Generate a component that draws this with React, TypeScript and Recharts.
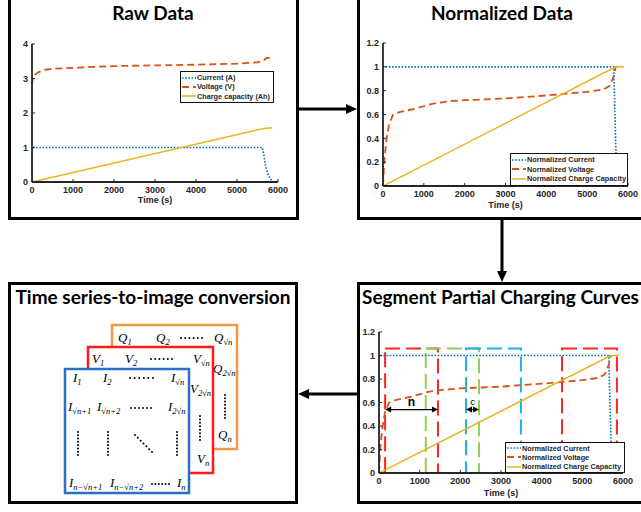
import React from "react";
import {
  LineChart,
  Line,
  XAxis,
  YAxis,
  Legend,
  ReferenceArea,
  ReferenceLine,
} from "recharts";

type Pt = { t: number; v: number };

// ---- data ----
const TIME_TICKS = [0, 1000, 2000, 3000, 4000, 5000, 6000];
const RAW_Y_TICKS = [0, 1, 2, 3, 4];
const NORM_Y_TICKS = [0, 0.2, 0.4, 0.6, 0.8, 1, 1.2];

const RAW_LABELS = ["Current (A)", "Voltage (V)", "Charge capacity (Ah)"];
const NORM_LABELS = ["Normalized Current", "Normalized Voltage", "Normalized Charge Capacity"];

const RAW_CURRENT: Pt[] = [
  { t: 0, v: 0 }, { t: 5, v: 1 }, { t: 5620, v: 1 }, { t: 5660, v: 0.75 },
  { t: 5700, v: 0.45 }, { t: 5750, v: 0.25 }, { t: 5800, v: 0.12 }, { t: 5850, v: 0.04 },
];
const RAW_VOLTAGE: Pt[] = [
  { t: 0, v: 2.8 }, { t: 20, v: 3.0 }, { t: 60, v: 3.1 }, { t: 150, v: 3.18 },
  { t: 300, v: 3.25 }, { t: 500, v: 3.28 }, { t: 1000, v: 3.31 }, { t: 2000, v: 3.36 },
  { t: 3000, v: 3.38 }, { t: 4000, v: 3.4 }, { t: 5000, v: 3.43 }, { t: 5500, v: 3.47 },
  { t: 5650, v: 3.52 }, { t: 5720, v: 3.6 }, { t: 5800, v: 3.6 },
];
const RAW_CAPACITY: Pt[] = [{ t: 0, v: 0 }, { t: 5650, v: 1.55 }, { t: 5850, v: 1.57 }];

const NORM_CURRENT: Pt[] = [
  { t: 0, v: 0 }, { t: 5, v: 1 }, { t: 5650, v: 1 }, { t: 5680, v: 0.6 },
  { t: 5720, v: 0.1 }, { t: 5750, v: 0 },
];
const NORM_VOLTAGE: Pt[] = [
  { t: 0, v: 0 }, { t: 30, v: 0.2 }, { t: 80, v: 0.38 }, { t: 150, v: 0.52 },
  { t: 250, v: 0.6 }, { t: 400, v: 0.62 }, { t: 800, v: 0.65 }, { t: 1200, v: 0.69 },
  { t: 1600, v: 0.71 }, { t: 2000, v: 0.72 }, { t: 3000, v: 0.735 }, { t: 4000, v: 0.76 },
  { t: 5000, v: 0.79 }, { t: 5400, v: 0.81 }, { t: 5550, v: 0.84 }, { t: 5650, v: 0.92 },
  { t: 5700, v: 1 },
];
const NORM_CAPACITY: Pt[] = [{ t: 0, v: 0 }, { t: 5700, v: 1 }, { t: 5900, v: 1 }];

const SEGMENTS = [
  { x1: 150, x2: 1450, color: "#ff2424" },
  { x1: 1150, x2: 2460, color: "#92d050" },
  { x1: 2140, x2: 3490, color: "#1cb0ee" },
  { x1: 4500, x2: 5850, color: "#ff2424" },
];
const SEG_TOP = 1.06;
const SPANS = [
  { x1: 150, x2: 1450, y: 0.54, label: "n" },
  { x1: 2140, x2: 2460, y: 0.54, label: "c" },
];

// ---- styles ----
const BLUE = "#0072BD";
const ORANGE = "#D95319";
const YELLOW = "#EDB120";
const AXIS_COLOR = "#262626";
const FONT = "'Liberation Sans', Arial, sans-serif";
const TITLE_FONT = "Lato, 'Open Sans', sans-serif";
const MATH_FONT = "'Liberation Serif', 'DejaVu Serif', serif";

const SERIES_STYLE = [
  { color: BLUE, dash: "1.6 1.6", width: 1.6 },
  { color: ORANGE, dash: "7 4", width: 1.8 },
  { color: YELLOW, dash: undefined as string | undefined, width: 1.5 },
];

const tickFont = { fill: AXIS_COLOR, fontSize: 9, fontWeight: 700, fontFamily: FONT };
const blankTick = () => <g />;
const fmt = (v: number) => `${+v.toFixed(1)}`;

function frame(yTicks: number[], yMax: number, xHeight: number, yWidth: number) {
  const axisLine = { stroke: AXIS_COLOR, strokeWidth: 1.8 };
  const tickLine = { stroke: AXIS_COLOR, strokeWidth: 1 };
  return [
    <XAxis
      key="xb"
      dataKey="t"
      type="number"
      domain={[0, 6000]}
      ticks={TIME_TICKS}
      allowDataOverflow
      interval={0}
      height={xHeight}
      axisLine={axisLine}
      tickLine={tickLine}
      tickSize={-3}
      tickMargin={8}
      tick={tickFont}
      label={{ value: "Time (s)", position: "bottom", offset: 0, fill: AXIS_COLOR, fontSize: 9, fontWeight: 700, fontFamily: FONT }}
    />,
    <XAxis
      key="xt"
      xAxisId="top"
      orientation="top"
      type="number"
      domain={[0, 6000]}
      ticks={TIME_TICKS}
      allowDataOverflow
      interval={0}
      height={0}
      axisLine={axisLine}
      tickLine={tickLine}
      tickSize={-3}
      tick={blankTick}
    />,
    <YAxis
      key="yl"
      type="number"
      domain={[0, yMax]}
      ticks={yTicks}
      allowDataOverflow
      interval={0}
      width={yWidth}
      axisLine={axisLine}
      tickLine={tickLine}
      tickSize={-3}
      tickMargin={7}
      tick={tickFont}
      tickFormatter={fmt}
    />,
    <YAxis
      key="yr"
      yAxisId="right"
      orientation="right"
      type="number"
      domain={[0, yMax]}
      ticks={yTicks}
      allowDataOverflow
      interval={0}
      width={0}
      axisLine={axisLine}
      tickLine={tickLine}
      tickSize={-3}
      tick={blankTick}
    />,
  ];
}

function seriesLines(series: Pt[][], labels: string[]) {
  return series.map((data, i) => (
    <Line
      key={labels[i]}
      name={labels[i]}
      data={data}
      dataKey="v"
      type="linear"
      stroke={SERIES_STYLE[i].color}
      strokeWidth={SERIES_STYLE[i].width}
      strokeDasharray={SERIES_STYLE[i].dash}
      dot={false}
      activeDot={false}
      isAnimationActive={false}
    />
  ));
}

function LegendBox({ labels, fontSize, width, height }: { labels: string[]; fontSize: number; width: number; height: number }) {
  return (
    <div
      style={{
        width,
        height,
        boxSizing: "border-box",
        border: "1.5px solid #111",
        background: "#fff",
        display: "flex",
        flexDirection: "column",
        justifyContent: "space-evenly",
        padding: "0 1px",
      }}
    >
      {labels.map((l, i) => (
        <div key={l} style={{ display: "flex", alignItems: "center" }}>
          <svg width={14} height={6} style={{ flex: "none" }}>
            <line
              x1={0}
              y1={3}
              x2={14}
              y2={3}
              stroke={SERIES_STYLE[i].color}
              strokeWidth={SERIES_STYLE[i].width}
              strokeDasharray={SERIES_STYLE[i].dash}
            />
          </svg>
          <span style={{ marginLeft: 1, fontSize, fontWeight: 700, fontFamily: FONT, color: AXIS_COLOR, whiteSpace: "nowrap", lineHeight: 1 }}>
            {l}
          </span>
        </div>
      ))}
    </div>
  );
}

function legendFor(labels: string[], left: number, top: number, width: number, height: number, fontSize: number) {
  return (
    <Legend
      layout="vertical"
      align="center"
      verticalAlign="middle"
      wrapperStyle={{ left, top, width, height }}
      content={() => <LegendBox labels={labels} fontSize={fontSize} width={width} height={height} />}
    />
  );
}

function SpanArrow(props: any) {
  const { x1, y1, x2, text } = props;
  const big = text === "n";
  return (
    <g>
      <line x1={x1 + 3} y1={y1} x2={x2 - 3} y2={y1} stroke="#000" strokeWidth={1.3} />
      <polygon points={`${x1},${y1} ${x1 + 6},${y1 - 3} ${x1 + 6},${y1 + 3}`} fill="#000" />
      <polygon points={`${x2},${y1} ${x2 - 6},${y1 - 3} ${x2 - 6},${y1 + 3}`} fill="#000" />
      <text
        x={(x1 + x2) / 2}
        y={y1 - (big ? 4 : 5)}
        textAnchor="middle"
        fontSize={big ? 12 : 9.5}
        fontWeight={big ? 700 : 400}
        fontFamily={FONT}
        fill="#000"
      >
        {text}
      </text>
    </g>
  );
}

function Title({ text, cx, top, left }: { text: string; cx?: number; top: number; left?: number }) {
  const style: React.CSSProperties = {
    position: "absolute",
    top,
    fontFamily: TITLE_FONT,
    fontWeight: 700,
    fontSize: 19,
    lineHeight: "20px",
    whiteSpace: "nowrap",
    color: "#000",
  };
  if (cx !== undefined) {
    style.left = cx - 200;
    style.width = 400;
    style.textAlign = "center";
  } else {
    style.left = left;
  }
  return <div style={style}>{text}</div>;
}

function Panel({ left, top, width, height }: { left: number; top: number; width: number; height: number }) {
  return (
    <div
      style={{ position: "absolute", left, top, width, height, boxSizing: "border-box", border: "3px solid #000", background: "#fff" }}
    />
  );
}

function M({ x, y, base, sub }: { x: number; y: number; base: string; sub: string }) {
  return (
    <text x={x} y={y} fontFamily={MATH_FONT} fontStyle="italic" fontSize={13} fill="#000">
      {base}
      <tspan fontSize={8.5} dy={3}>
        {sub}
      </tspan>
    </text>
  );
}

function HDots({ x1, x2, y }: { x1: number; x2: number; y: number }) {
  const n = 6;
  return (
    <g>
      {Array.from({ length: n }, (_, i) => (
        <circle key={i} cx={x1 + ((x2 - x1) * i) / (n - 1)} cy={y} r={1} fill="#000" />
      ))}
    </g>
  );
}

function VDots({ x, y1, y2 }: { x: number; y1: number; y2: number }) {
  const n = 8;
  return (
    <g>
      {Array.from({ length: n }, (_, i) => (
        <circle key={i} cx={x} cy={y1 + ((y2 - y1) * i) / (n - 1)} r={1} fill="#000" />
      ))}
    </g>
  );
}

function DDots({ x1, y1, x2, y2 }: { x1: number; y1: number; x2: number; y2: number }) {
  const n = 7;
  return (
    <g>
      {Array.from({ length: n }, (_, i) => (
        <circle key={i} cx={x1 + ((x2 - x1) * i) / (n - 1)} cy={y1 + ((y2 - y1) * i) / (n - 1)} r={1} fill="#000" />
      ))}
    </g>
  );
}

export default function App() {
  return (
    <div style={{ position: "absolute", left: 0, top: 0, width: 641, height: 512, background: "#fff", overflow: "hidden" }}>
      <Panel left={8} top={-3} width={291} height={223} />
      <Panel left={357} top={-3} width={310} height={223} />
      <Panel left={357} top={282} width={310} height={222} />
      <Panel left={8} top={282} width={290} height={222} />

      <Title text="Raw Data" cx={153} top={3} />
      <Title text="Normalized Data" cx={502} top={3} />
      <Title text="Segment Partial Charging Curves" left={362} top={287} />
      <Title text="Time series-to-image conversion" cx={153} top={287} />

      {/* Raw data */}
      <div style={{ position: "absolute", left: 0, top: 0 }}>
        <LineChart width={290} height={218} margin={{ top: 44, right: 12, left: 8, bottom: 21 }}>
          {frame(RAW_Y_TICKS, 4, 15, 24)}
          {seriesLines([RAW_CURRENT, RAW_VOLTAGE, RAW_CAPACITY], RAW_LABELS)}
          {legendFor(RAW_LABELS, 180, 71, 94, 32, 7.3)}
        </LineChart>
      </div>

      {/* Normalized data */}
      <div style={{ position: "absolute", left: 330, top: 0 }}>
        <LineChart width={311} height={219} margin={{ top: 43, right: 13, left: 28, bottom: 17 }}>
          {frame(NORM_Y_TICKS, 1.2, 16, 25)}
          {seriesLines([NORM_CURRENT, NORM_VOLTAGE, NORM_CAPACITY], NORM_LABELS)}
          {legendFor(NORM_LABELS, 180, 153, 118, 33, 7.3)}
        </LineChart>
      </div>

      {/* Segmented */}
      <div style={{ position: "absolute", left: 330, top: 283 }}>
        <LineChart width={311} height={220} margin={{ top: 49, right: 18, left: 24, bottom: 13 }}>
          {frame(NORM_Y_TICKS, 1.2, 17, 25)}
          {seriesLines([NORM_CURRENT, NORM_VOLTAGE, NORM_CAPACITY], NORM_LABELS)}
          {legendFor(NORM_LABELS, 175, 159, 120, 31, 7.3)}
          {SEGMENTS.map((s, i) => (
            <ReferenceArea
              key={i}
              x1={s.x1}
              x2={s.x2}
              y1={0}
              y2={SEG_TOP}
              fill="none"
              fillOpacity={0}
              stroke={s.color}
              strokeWidth={2}
              strokeDasharray="15 6"
              ifOverflow="visible"
            />
          ))}
          {SPANS.map((s) => (
            <ReferenceLine
              key={s.label}
              segment={[{ x: s.x1, y: s.y }, { x: s.x2, y: s.y }]}
              ifOverflow="visible"
              shape={(p: any) => <SpanArrow {...p} text={s.label} />}
            />
          ))}
        </LineChart>
      </div>

      {/* arrows + image conversion sketch */}
      <svg width={641} height={512} style={{ position: "absolute", left: 0, top: 0, pointerEvents: "none" }}>
        <line x1={299} y1={109} x2={348} y2={109} stroke="#000" strokeWidth={3} />
        <polygon points="346,104 357,109 346,114" fill="#000" />
        <line x1={502} y1={220} x2={502} y2={273} stroke="#000" strokeWidth={3} />
        <polygon points="497,271 502,282 507,271" fill="#000" />
        <line x1={357} y1={394} x2={308} y2={394} stroke="#000" strokeWidth={3} />
        <polygon points="309,389 298,394 309,399" fill="#000" />

        <rect x={112} y={325} width={125} height={124} fill="#fff" stroke="#F79646" strokeWidth={2.5} />
        <M x={118} y={342} base="Q" sub="1" />
        <M x={156} y={342} base="Q" sub="2" />
        <HDots x1={181} x2={202} y={338} />
        <M x={214} y={342} base="Q" sub="√n" />
        <M x={213} y={373} base="Q" sub="2√n" />
        <VDots x={225} y1={395} y2={418} />
        <M x={218} y={439} base="Q" sub="n" />

        <rect x={88} y={347} width={125} height={126} fill="#fff" stroke="#FF1A1A" strokeWidth={2.5} />
        <M x={92} y={363} base="V" sub="1" />
        <M x={125} y={363} base="V" sub="2" />
        <HDots x1={151} x2={172} y={359} />
        <M x={193} y={363} base="V" sub="√n" />
        <M x={190} y={393} base="V" sub="2√n" />
        <VDots x={200} y1={416} y2={440} />
        <M x={197} y={463} base="V" sub="n" />

        <rect x={65} y={369} width={124} height={124} fill="#fff" stroke="#2A6FCC" strokeWidth={2.5} />
        <M x={73} y={382} base="I" sub="1" />
        <M x={103} y={382} base="I" sub="2" />
        <HDots x1={130} x2={153} y={378} />
        <M x={171} y={382} base="I" sub="√n" />
        <M x={68} y={411} base="I" sub="√n+1" />
        <M x={97} y={411} base="I" sub="√n+2" />
        <HDots x1={131} x2={151} y={408} />
        <M x={168} y={411} base="I" sub="2√n" />
        <VDots x={78} y1={432} y2={455} />
        <VDots x={108} y1={432} y2={455} />
        <DDots x1={135} y1={435} x2={152} y2={452} />
        <VDots x={177} y1={432} y2={455} />
        <M x={69} y={487} base="I" sub="n−√n+1" />
        <M x={110} y={487} base="I" sub="n−√n+2" />
        <HDots x1={152} x2={169} y={484} />
        <M x={177} y={487} base="I" sub="n" />
      </svg>
    </div>
  );
}
